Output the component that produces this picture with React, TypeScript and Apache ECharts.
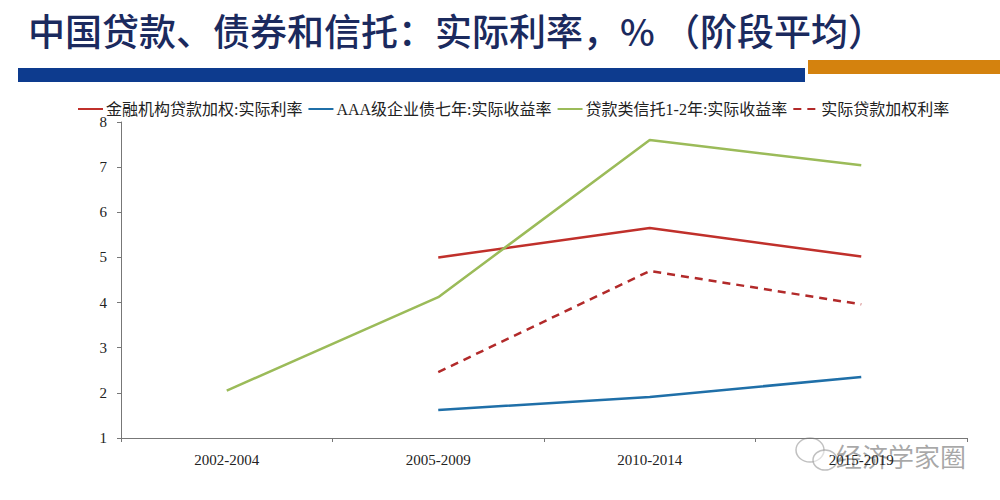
import React, { useEffect, useRef } from "react";
import * as echarts from "echarts";

const categories = ["2002-2004", "2005-2009", "2010-2014", "2015-2019"];
const loanWeighted = [null, 5.0, 5.65, 5.02];
const aaaBond = [null, 1.62, 1.91, 2.35];
const trustLoan = [2.05, 4.12, 7.6, 7.04];
const realLoanWeighted = [null, 2.46, 4.7, 3.96];
const seriesNames = [
  "金融机构贷款加权:实际利率",
  "AAA级企业债七年:实际收益率",
  "贷款类信托1-2年:实际收益率",
  "实际贷款加权利率",
];

export default function App() {
  const ref = useRef<HTMLDivElement>(null);
  useEffect(() => {
    const chart = echarts.init(ref.current!, null, { renderer: "svg" });
    const serif = "'Liberation Serif', 'Times New Roman', 'Noto Sans CJK SC', serif";
    chart.setOption({
      animation: false,
      backgroundColor: "#ffffff",
      graphic: [
        {
          type: "text",
          left: 28,
          top: 11,
          style: {
            text: "中国贷款、债券和信托：实际利率，% （阶段平均）",
            fontSize: 37,
            fontWeight: 500,
            fontFamily: "'Noto Sans CJK SC', sans-serif",
            fill: "#1b2a5e",
          },
        },
        { type: "rect", shape: { x: 18, y: 68, width: 787, height: 14 }, style: { fill: "#0d3b8e" } },
        { type: "rect", shape: { x: 808, y: 60, width: 192, height: 14 }, style: { fill: "#d4820e" } },
        { type: "ellipse", shape: { cx: 810, cy: 450, rx: 14, ry: 12 }, style: { fill: "none", stroke: "rgba(150,150,150,0.6)", lineWidth: 1.5 } },
        { type: "ellipse", shape: { cx: 825, cy: 460, rx: 12, ry: 10 }, style: { fill: "rgba(255,255,255,0.5)", stroke: "rgba(150,150,150,0.6)", lineWidth: 1.5 } },
        {
          type: "text",
          left: 836,
          top: 442,
          style: {
            text: "经济学家圈",
            fontSize: 26,
            fontFamily: "'Noto Sans CJK SC', sans-serif",
            fill: "rgba(110,110,110,0.6)",
          },
        },
      ],
      legend: {
        top: 96,
        left: 72,
        itemWidth: 25,
        itemHeight: 12,
        itemGap: 5,
        itemStyle: { color: "rgba(0,0,0,0)", borderColor: "rgba(0,0,0,0)", borderWidth: 0 },
        textStyle: { fontSize: 16, color: "#222", fontFamily: serif, padding: [0, 0, 0, -2] },
        data: seriesNames,
      },
      grid: { left: 121, right: 33, top: 122, bottom: 62 },
      xAxis: {
        type: "category",
        data: categories,
        boundaryGap: true,
        axisLine: { lineStyle: { color: "#777", width: 1 } },
        axisTick: { show: true, length: 4, lineStyle: { color: "#777" } },
        axisLabel: { fontSize: 15, color: "#222", fontFamily: serif, margin: 14 },
      },
      yAxis: {
        type: "value",
        min: 1,
        max: 8,
        interval: 1,
        splitLine: { show: false },
        axisLine: { show: true, lineStyle: { color: "#777", width: 1 } },
        axisTick: { show: true, length: 4, lineStyle: { color: "#777" } },
        axisLabel: { fontSize: 15, color: "#222", fontFamily: serif, margin: 14 },
      },
      series: [
        {
          name: seriesNames[0],
          type: "line",
          data: loanWeighted,
          symbol: "none",
          lineStyle: { color: "#c0302b", width: 2.5 },
          itemStyle: { color: "#c0302b" },
        },
        {
          name: seriesNames[1],
          type: "line",
          data: aaaBond,
          symbol: "none",
          lineStyle: { color: "#1f6fa8", width: 2.5 },
          itemStyle: { color: "#1f6fa8" },
        },
        {
          name: seriesNames[2],
          type: "line",
          data: trustLoan,
          symbol: "none",
          lineStyle: { color: "#9bbb59", width: 2.5 },
          itemStyle: { color: "#9bbb59" },
        },
        {
          name: seriesNames[3],
          type: "line",
          data: realLoanWeighted,
          symbol: "none",
          lineStyle: { color: "#b22a2a", width: 2.5, type: [8, 6] },
          itemStyle: { color: "#b22a2a" },
        },
      ],
    });
    return () => chart.dispose();
  }, []);
  return <div ref={ref} style={{ width: 1000, height: 500, position: "absolute", left: 0, top: 0 }} />;
}
